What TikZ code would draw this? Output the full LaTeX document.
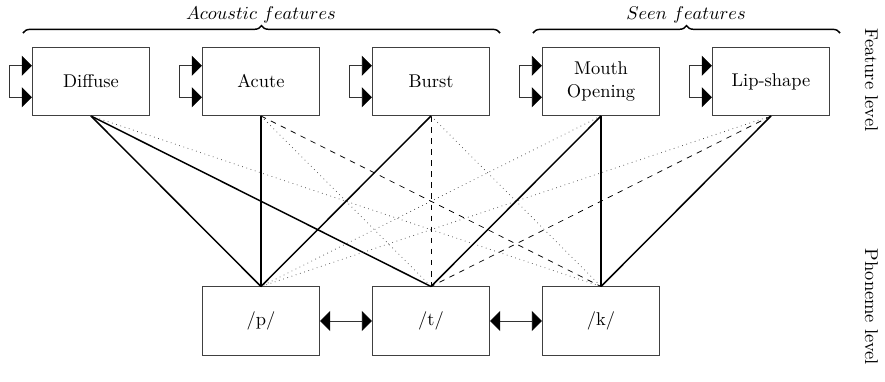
\documentclass[tikz,border=0pt]{standalone}
\usetikzlibrary{arrows.meta,decorations.pathreplacing}

\tikzset{
  unit/.style={draw=black!75, minimum width=2.24cm, minimum height=1.3cm, align=center},
  strong/.style={thick},
  medium/.style={dashed},
  faint/.style={dotted, black!70},
  selfloop/.style={draw=black!80, {Triangle[length=0.19cm,width=0.38cm,black]}-{Triangle[length=0.19cm,width=0.38cm,black]}},
  group/.style={thick, decorate, decoration={brace, amplitude=4pt}}
}

\begin{document}
\begin{tikzpicture}

\useasboundingbox (0,0) rectangle (16.857,-7.276);

\node [unit] (v1) at (1.733,-1.552) {Diffuse};
\node [unit] (v2) at (4.971,-1.552) {Acute};
\node [unit] (v3) at (8.210,-1.552) {Burst};
\node [unit] (v4) at (11.448,-1.552) {Mouth\\Opening};
\node [unit] (v5) at (14.686,-1.552) {Lip-shape};

\node [unit] (v6) at (4.971,-6.114) {/p/};
\node [unit] (v7) at (8.210,-6.114) {/t/};
\node [unit] (v8) at (11.448,-6.114) {/k/};

\draw [selfloop] ([yshift=0.3cm]v1.west) -- ++(-0.43,0) |- ([yshift=-0.3cm]v1.west);
\draw [selfloop] ([yshift=0.3cm]v2.west) -- ++(-0.43,0) |- ([yshift=-0.3cm]v2.west);
\draw [selfloop] ([yshift=0.3cm]v3.west) -- ++(-0.43,0) |- ([yshift=-0.3cm]v3.west);
\draw [selfloop] ([yshift=0.3cm]v4.west) -- ++(-0.43,0) |- ([yshift=-0.3cm]v4.west);
\draw [selfloop] ([yshift=0.3cm]v5.west) -- ++(-0.43,0) |- ([yshift=-0.3cm]v5.west);

\draw [selfloop] (v6) -- (v7);
\draw [selfloop] (v7) -- (v8);

\draw [strong] (v1.south) -- (v6.north);
\draw [strong] (v1.south) -- (v7.north);
\draw [faint] (v1.south) -- (v8.north);

\draw [strong] (v2.south) -- (v6.north);
\draw [faint] (v2.south) -- (v7.north);
\draw [medium] (v2.south) -- (v8.north);

\draw [strong] (v3.south) -- (v6.north);
\draw [medium] (v3.south) -- (v7.north);
\draw [faint] (v3.south) -- (v8.north);

\draw [faint] (v4.south) -- (v6.north);
\draw [strong] (v4.south) -- (v7.north);
\draw [strong] (v4.south) -- (v8.north);

\draw [faint] (v5.south) -- (v6.north);
\draw [medium] (v5.south) -- (v7.north);
\draw [strong] (v5.south) -- (v8.north);

\coordinate (b1) at (0.438,-0.629);
\coordinate (b2) at (9.524,-0.629);
\coordinate (b3) at (10.152,-0.629);
\coordinate (b4) at (16.0,-0.629);
\draw [group] (b1) -- (b2);
\draw [group] (b3) -- (b4);

\node (t1) at (4.971,-0.29) {$Acoustic\ features$};
\node (t2) at (13.067,-0.29) {$Seen\ features$};

\node [rotate=-90] (t3) at (16.6,-1.524) {Feature level};
\node [rotate=-90] (t4) at (16.6,-5.848) {Phoneme level};

\end{tikzpicture}
\end{document}
